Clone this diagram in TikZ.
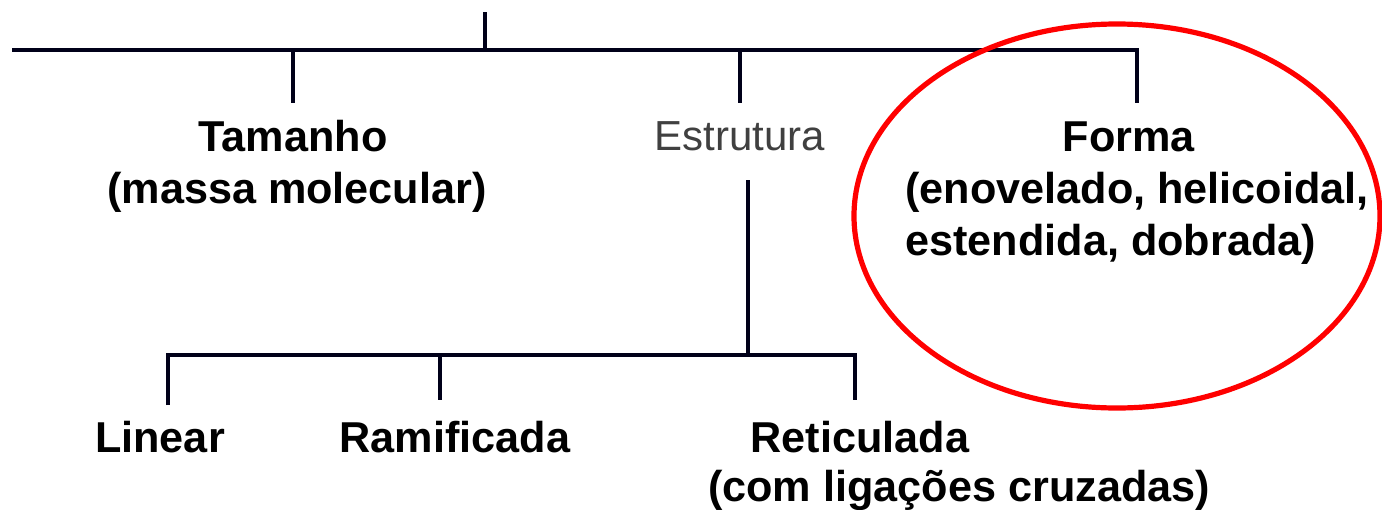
\documentclass[tikz,border=0pt]{standalone}
\usepackage{fontspec}
\setmainfont{Liberation Sans}
\begin{document}
\begin{tikzpicture}[x=0.5pt,y=-0.5pt,
  conn/.style={line width=2.2pt,draw=black!90!blue},
  lbl/.style={font=\fontsize{21.6}{26}\selectfont\bfseries,inner sep=0pt,anchor=base},
  glbl/.style={font=\fontsize{21}{26}\selectfont,text=black!75,inner sep=0pt,anchor=base}]
\useasboundingbox (0,0) rectangle (1382,509);
% nodes
\coordinate (top) at (485,12);
\coordinate (topj) at (485,50);
\coordinate (hl) at (14,50);
\coordinate (hr) at (1137,50);
\coordinate (tamj) at (293,103);
\coordinate (estj) at (740,103);
\coordinate (forj) at (1137,103);
\node[lbl] (tam1) at (293,151) {Tamanho};
\node[lbl] (tam2) at (297,203) {(massa molecular)};
\node[glbl] (est) at (740,150) {Estrutura};
\node[lbl] (for1) at (1129,151) {Forma};
\node[lbl,anchor=base west] (for2) at (905,203) {(enovelado, helicoidal,};
\node[lbl,anchor=base west] (for3) at (905,255) {estendida, dobrada)};
\coordinate (estdown) at (748,180);
\coordinate (lowj) at (748,355);
\coordinate (ll) at (168,355);
\coordinate (lr) at (855,355);
\coordinate (linj) at (168,405);
\coordinate (ramj) at (440,400);
\coordinate (retj) at (855,400);
\node[lbl] (lin) at (160,452) {Linear};
\node[lbl] (ram) at (455,452) {Ramificada};
\node[lbl] (ret1) at (860,452) {Reticulada};
\node[lbl] (ret2) at (959,501) {(com ligações cruzadas)};
% connectors
\draw[conn] (top) -- (topj);
\draw[conn,line cap=rect] (hl) -- (hr);
\draw[conn] (tamj |- hl) -- (tamj);
\draw[conn] (estj |- hl) -- (estj);
\draw[conn] (hr) -- (forj);
\draw[conn] (estdown) -- (lowj);
\draw[conn] (linj) -- (ll) -- (lr) -- (retj);
\draw[conn] (ramj |- ll) -- (ramj);
% red ellipse
\draw[red,line width=2.6pt] (1117,216) ellipse [x radius=263, y radius=192];
\end{tikzpicture}
\end{document}
